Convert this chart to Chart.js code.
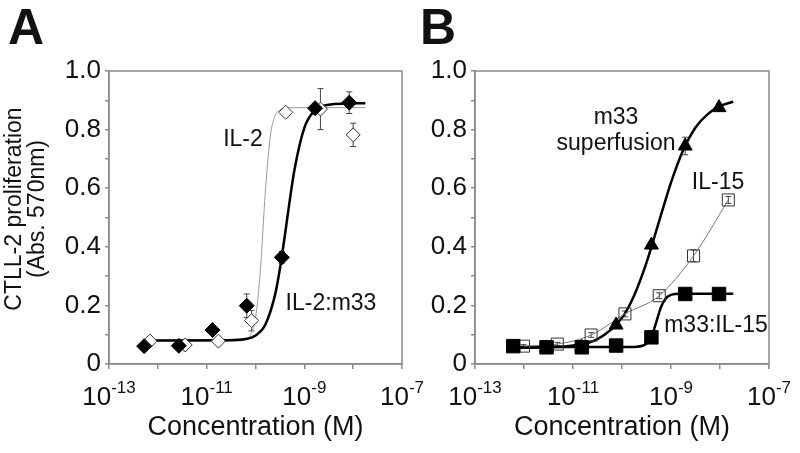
<!DOCTYPE html>
<html><head><meta charset="utf-8">
<script src="https://cdn.jsdelivr.net/npm/chart.js@4.4.1/dist/chart.umd.min.js"></script>
<style>
html,body{margin:0;padding:0;background:#fff;}
#wrap{position:relative;width:800px;height:453px;overflow:hidden;background:#fff;}
#ca{position:absolute;left:0;top:0;}
#cb{position:absolute;left:420px;top:0;}
</style></head>
<body><div id="wrap">
<canvas id="ca" width="430" height="453"></canvas>
<canvas id="cb" width="380" height="453"></canvas>
</div>
<script>
const FONT = "'Liberation Sans', Arial, Helvetica, sans-serif";

// ---------- Panel A data (log10 of concentration in M) ----------
const aLogFilled = [-12.28, -11.57, -10.88, -10.18, -9.46, -8.78, -8.08];
const aIL2m33    = [0.061, 0.062, 0.116, 0.199, 0.364, 0.873, 0.892];
const aIL2m33Err = [0.006, 0.006, 0.010, 0.040, 0.020, 0.012, 0.037];
const aLogOpen   = [-12.16, -11.44, -10.76, -10.08, -9.38, -8.67, -8.00];
const aIL2       = [0.078, 0.065, 0.078, 0.148, 0.859, 0.870, 0.782];
const aIL2Err    = [0.006, 0.010, 0.010, 0.035, 0.010, 0.070, 0.040];
// fitted curves
const aCurveM33Log = [-12.28, -10.6, -10.2, -10.0, -9.8, -9.6, -9.5, -9.4, -9.3, -9.2, -9.0, -8.8, -8.5, -7.75];
const aCurveM33    = [0.080, 0.081, 0.085, 0.097, 0.134, 0.236, 0.325, 0.437, 0.557, 0.665, 0.806, 0.863, 0.885, 0.890];
const aCurveIL2Log = [-12.16, -10.4, -10.2, -10.1, -10.0, -9.9, -9.8, -9.7, -9.6, -9.5, -9.3, -7.75];
const aCurveIL2    = [0.078, 0.078, 0.084, 0.100, 0.157, 0.320, 0.584, 0.774, 0.847, 0.868, 0.875, 0.875];

// ---------- Panel B data ----------
const bLogFilled  = [-12.22, -11.54, -10.82, -10.12, -9.40, -8.71, -8.02];
const bSuper      = [0.058, 0.055, 0.057, 0.133, 0.406, 0.744, 0.875];
const bSuperErr   = [0.005, 0.005, 0.005, 0.010, 0.012, 0.030, 0.012];
const bM33IL15    = [0.061, 0.057, 0.057, 0.063, 0.091, 0.239, 0.239];
const bM33IL15Err = [0.005, 0.005, 0.005, 0.005, 0.006, 0.008, 0.008];
const bLogOpen    = [-12.01, -11.32, -10.63, -9.94, -9.24, -8.54, -7.83];
const bIL15       = [0.061, 0.068, 0.099, 0.171, 0.233, 0.369, 0.560];
const bIL15Err    = [0.005, 0.006, 0.008, 0.010, 0.010, 0.020, 0.012];
const bCurveSuperLog = [-12.22, -11.5, -11.0, -10.5, -10.0, -9.75, -9.5, -9.25, -9.0, -8.75, -8.5, -8.25, -8.0, -7.73];
const bCurveSuper    = [0.055, 0.057, 0.063, 0.085, 0.158, 0.235, 0.346, 0.483, 0.619, 0.730, 0.807, 0.853, 0.880, 0.895];
const bCurveM33Log   = [-12.22, -10.0, -9.7, -9.5, -9.4, -9.3, -9.2, -9.1, -9.0, -8.8, -7.73];
const bCurveM33      = [0.058, 0.058, 0.059, 0.070, 0.094, 0.143, 0.196, 0.225, 0.236, 0.240, 0.240];

// ---------- axis ticks ----------
const decades = [-13, -12, -11, -10, -9, -8, -7];
const labelledDecades = [-13, -11, -9, -7];

// ---------- annotations (text, log conc, value) ----------
const aNotes = [["IL-2", -10.256, 0.765], ["IL-2:m33", -8.454, 0.205]];
const bNotes = [["m33", -10.122, 0.84], ["superfusion", -10.122, 0.751], ["IL-15", -8.04, 0.618], ["m33:IL-15", -8.082, 0.130]];

const pts = (logs, vals) => logs.map((l, i) => ({x: Math.pow(10, l), y: vals[i]}));

const AXIS = '#8a8a8a';

const framePlugin = {
  id: 'frame',
  beforeDatasetsDraw(chart) {
    const {ctx, chartArea: a} = chart;
    ctx.save();
    ctx.strokeStyle = AXIS; ctx.lineWidth = 1.5;
    ctx.strokeRect(a.left, a.top, a.right - a.left, a.bottom - a.top);
    ctx.restore();
  }
};

const errorPlugin = {
  id: 'errbars',
  beforeDatasetsDraw(chart) {
    const {ctx} = chart; const ys = chart.scales.y;
    ctx.save();
    chart.data.datasets.forEach((ds, i) => {
      if (!ds.errors) return;
      const meta = chart.getDatasetMeta(i);
      meta.data.forEach((el, j) => {
        const v = ds.data[j].y, e = ds.errors[j];
        const y1 = ys.getPixelForValue(v + e), y2 = ys.getPixelForValue(v - e);
        ctx.strokeStyle = '#444'; ctx.lineWidth = 1;
        ctx.beginPath();
        ctx.moveTo(el.x, y1); ctx.lineTo(el.x, y2);
        ctx.moveTo(el.x - 3, y1); ctx.lineTo(el.x + 3, y1);
        ctx.moveTo(el.x - 3, y2); ctx.lineTo(el.x + 3, y2);
        ctx.stroke();
      });
    });
    ctx.restore();
  }
};

const textPlugin = {
  id: 'texts',
  afterDraw(chart, args, opts) {
    const {ctx} = chart; const xs = chart.scales.x, ys = chart.scales.y;
    ctx.save();
    // superscript tick labels
    ctx.fillStyle = '#111';
    ctx.textBaseline = 'alphabetic';
    labelledDecades.forEach(d => {
      const x = xs.getPixelForValue(Math.pow(10, d));
      ctx.font = '26px ' + FONT;
      const wb = ctx.measureText('10').width;
      ctx.font = '17px ' + FONT;
      const sup = String(d);
      const ws = ctx.measureText(sup).width;
      const x0 = x - (wb + ws) / 2;
      ctx.font = '26px ' + FONT; ctx.textAlign = 'left';
      ctx.fillText('10', x0, 405);
      ctx.font = '17px ' + FONT;
      ctx.fillText(sup, x0 + wb, 393);
    });
    // annotations
    ctx.font = '23px ' + FONT; ctx.textAlign = 'center'; ctx.textBaseline = 'middle';
    opts.notes.forEach(([t, l, v]) => {
      ctx.fillText(t, xs.getPixelForValue(Math.pow(10, l)), ys.getPixelForValue(v));
    });
    // panel letter
    ctx.font = 'bold 50px ' + FONT; ctx.textAlign = 'left'; ctx.textBaseline = 'alphabetic';
    ctx.fillText(opts.letter, opts.letterX, 44);
    // y title
    if (opts.ytitle) {
      ctx.font = '23px ' + FONT; ctx.textAlign = 'center'; ctx.textBaseline = 'middle';
      ctx.translate(0, 209); ctx.rotate(-Math.PI / 2);
      ctx.fillText(opts.ytitle[0], 0, 15);
      ctx.fillText(opts.ytitle[1], 0, 38);
    }
    ctx.restore();
  }
};

function makeOptions(yWidth, rightPad, notes, letter, letterX, ytitle) {
  return {
    responsive: false, animation: false, events: [],
    layout: {padding: {left: 0, right: rightPad, top: 71, bottom: 0}},
    plugins: {legend: {display: false}, tooltip: {enabled: false},
      texts: {notes, letter, letterX, ytitle}},
    scales: {
      x: {
        type: 'logarithmic', min: 1e-13, max: 1e-7,
        afterBuildTicks: ax => { ax.ticks = decades.map(d => ({value: Math.pow(10, d)})); },
        afterFit: s => { s.height = 89; },
        ticks: {autoSkip: false, maxRotation: 0, callback: () => ''},
        grid: {drawOnChartArea: false, drawTicks: true, tickLength: 5, color: AXIS, lineWidth: 1.5},
        border: {color: AXIS, width: 1.5},
        title: {display: true, text: 'Concentration (M)', color: '#111',
          font: {family: FONT, size: 27, lineHeight: 1.0}, padding: {top: 0, bottom: 12}}
      },
      y: {
        min: 0, max: 1,
        afterFit: s => { s.width = yWidth; },
        ticks: {stepSize: 0.1, autoSkip: false, padding: 4, color: '#111',
          font: {family: FONT, size: 26},
          callback: v => { const r = Math.round(v * 10); if (r % 2) return ''; return r === 0 ? '0' : (r / 10).toFixed(1); }},
        grid: {drawOnChartArea: false, drawTicks: true, tickLength: 4, color: AXIS, lineWidth: 1.5},
        border: {color: AXIS, width: 1.5}
      }
    }
  };
}

const curve = (logs, vals, color, width) => ({
  type: 'line', data: pts(logs, vals), borderColor: color, borderWidth: width,
  pointRadius: 0, cubicInterpolationMode: 'monotone', fill: false
});
const markers = (logs, vals, errs, style, r, fill, stroke, bw) => ({
  type: 'scatter', data: pts(logs, vals), errors: errs, pointStyle: style, pointRadius: r,
  backgroundColor: fill, borderColor: stroke, borderWidth: bw, showLine: false
});

new Chart(document.getElementById('ca'), {
  type: 'scatter',
  data: {datasets: [
    markers(aLogFilled, aIL2m33, aIL2m33Err, 'rectRot', 7.5, '#000', '#000', 1),
    markers(aLogOpen, aIL2, aIL2Err, 'rectRot', 7, '#fff', '#333', 1),
    curve(aCurveM33Log, aCurveM33, '#000', 2.5),
    curve(aCurveIL2Log, aCurveIL2, '#9a9a9a', 1)
  ]},
  options: makeOptions(109, 28, aNotes, 'A', 8, ['CTLL-2 proliferation', '(Abs. 570nm)']),
  plugins: [framePlugin, errorPlugin, textPlugin]
});

const il15 = markers(bLogOpen, bIL15, bIL15Err, 'rect', 8.5, 'rgba(255,255,255,0)', '#333', 1);
il15.showLine = true; il15.borderColor = '#777'; il15.borderWidth = 1;
il15.pointBorderColor = '#333'; il15.cubicInterpolationMode = 'monotone';

new Chart(document.getElementById('cb'), {
  type: 'scatter',
  data: {datasets: [
    markers(bLogFilled, bM33IL15, bM33IL15Err, 'rect', 9.5, '#000', '#000', 1),
    markers(bLogFilled, bSuper, bSuperErr, 'triangle', 8, '#000', '#000', 1),
    il15,
    curve(bCurveSuperLog, bCurveSuper, '#000', 2.5),
    curve(bCurveM33Log, bCurveM33, '#000', 2.5)
  ]},
  options: makeOptions(55, 31, bNotes, 'B', 0, null),
  plugins: [framePlugin, errorPlugin, textPlugin]
});
</script>
</body></html>
